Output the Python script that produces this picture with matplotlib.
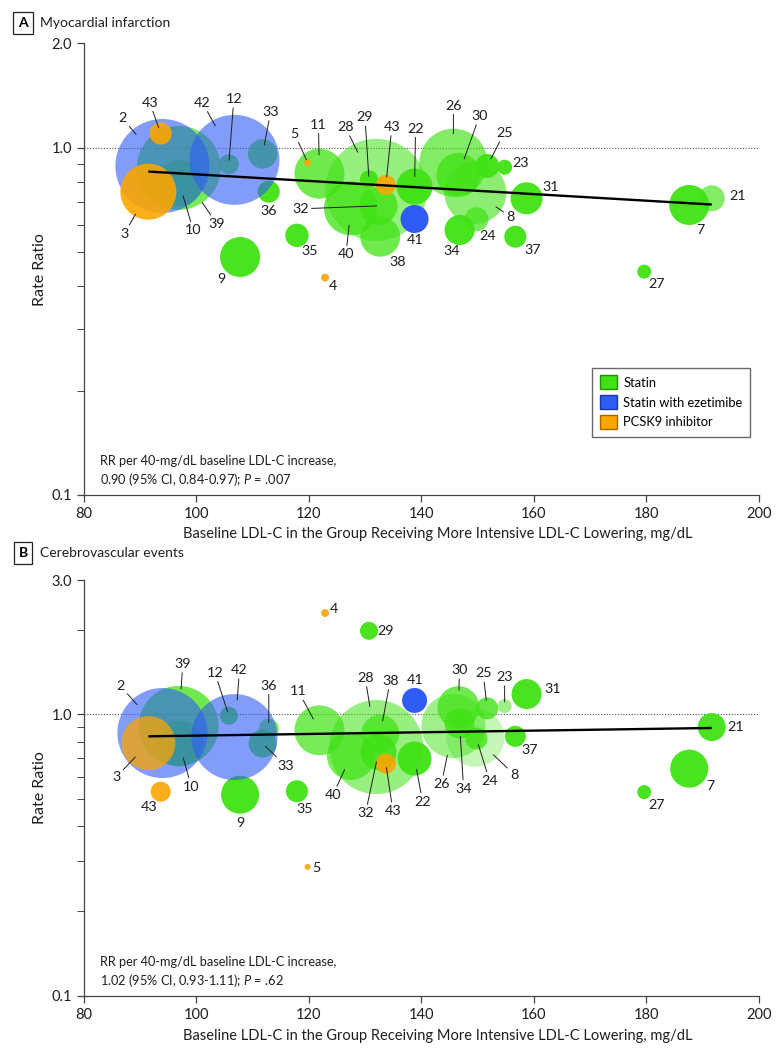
import numpy as np
import matplotlib
matplotlib.use('Agg')
import matplotlib.pyplot as plt
from matplotlib.patches import Patch
from matplotlib.ticker import FixedLocator, FixedFormatter, NullFormatter

plt.rcParams['font.family'] = ['Lato', 'DejaVu Sans']
plt.rcParams['mathtext.fontset'] = 'custom'
plt.rcParams['mathtext.it'] = 'Lato:italic'
plt.rcParams['mathtext.rm'] = 'Lato'

# trial data (same trials in both panels)
trials = ['2', '43', '3', '39', '10', '42', '12', '33', '36', '9', '35', '4', '5', '11', '28', '40', '32',
          '38', '29', '43', '22', '41', '26', '30', '8', '24', '34', '25', '23', '31', '37', '7', '21', '27']
drug = ['E', 'P', 'P', 'S', 'S', 'E', 'S', 'S', 'S', 'S', 'S', 'P', 'P', 'S', 'S', 'S', 'S',
        'S', 'S', 'P', 'S', 'E', 'S', 'S', 'S', 'S', 'S', 'S', 'S', 'S', 'S', 'S', 'S', 'S']
ldl = [94.0, 93.7, 91.5, 96.9, 97.0, 106.8, 105.8, 111.8, 112.9, 107.8, 117.9, 122.9, 119.8, 121.9, 132.0, 127.5, 132.4,
       132.7, 130.7, 133.7, 138.8, 138.8, 145.7, 146.6, 149.6, 149.8, 146.8, 151.7, 154.8, 158.7, 156.7, 187.6, 191.6, 179.6]

# panel A: myocardial infarction
rr_mi = [0.887, 1.10, 0.748, 0.876, 0.791, 0.924, 0.898, 0.961, 0.748, 0.485, 0.560, 0.423, 0.907, 0.843, 0.757, 0.670, 0.681,
         0.555, 0.812, 0.782, 0.774, 0.624, 0.907, 0.836, 0.743, 0.623, 0.580, 0.887, 0.880, 0.716, 0.555, 0.685, 0.716, 0.440]
w_mi = [47, 11, 28, 42, 23, 45, 10, 14.7, 11, 20, 11.7, 4, 3.5, 25, 51, 27, 19,
        20, 9, 10, 18, 14, 34, 22, 31, 12, 15, 12, 7.5, 16, 11, 20, 13, 7]
shade_mi = [0.6, 0.9, 0.9, 0.7, 0.75, 0.6, 0.8, 0.8, 0.95, 0.95, 0.95, 0.9, 0.9, 0.75, 0.55, 0.75, 0.8,
            0.75, 0.95, 0.9, 0.95, 1.0, 0.65, 0.75, 0.6, 0.7, 0.95, 0.95, 0.95, 0.95, 0.95, 0.95, 0.65, 0.95]
fit_mi = [0.855, 0.687]

# panel B: cerebrovascular events
rr_cv = [0.858, 0.531, 0.790, 0.909, 0.787, 0.830, 0.989, 0.787, 0.889, 0.518, 0.533, 2.29, 0.287, 0.877, 0.765, 0.711, 0.734,
         0.853, 1.98, 0.668, 0.696, 1.12, 0.909, 1.06, 0.826, 0.820, 0.927, 1.05, 1.07, 1.18, 0.835, 0.641, 0.901, 0.529]
w_cv = [45, 10, 27, 40, 23, 43, 9, 14, 10, 19, 11, 4, 3, 25, 47, 24, 18,
        19, 9, 10, 17, 12.5, 32, 21, 29, 11, 15, 11, 7, 15, 10.5, 19, 14, 7]
shade_cv = [0.6, 0.9, 0.75, 0.75, 0.75, 0.6, 0.85, 0.85, 0.7, 0.95, 0.95, 0.9, 0.9, 0.7, 0.55, 0.7, 0.85,
            0.7, 0.95, 0.9, 0.95, 1.0, 0.5, 0.75, 0.3, 0.8, 0.8, 0.8, 0.5, 0.95, 0.95, 0.95, 0.95, 0.95]
fit_cv = [0.835, 0.894]

stat_mi = 'RR per 40-mg/dL baseline LDL-C increase,\n0.90 (95% CI, 0.84-0.97); $\\it{P}$ = .007'
stat_cv = 'RR per 40-mg/dL baseline LDL-C increase,\n1.02 (95% CI, 0.93-1.11); $\\it{P}$ = .62'

# label placement: offset in px (dx, dy) and leader gap in px (None = no leader)
lab_mi = [(-40, 48, 41), (-11, 31, 6), (-24, -42, 26), (38, -56, 42), (14, -47, 13), (-32, 57, 39),
          (5, 65, 4), (8, 42, 9), (0, -19, None), (-19, -22, None), (13, -16, None), (8, -8, None),
          (-13, 29, 3), (-1, 49, 19), (-31, 63, 42), (-5, -46, 17), (-78, -3, 2), (17, -25, None),
          (-4, 62, 3), (6, 58, 8), (1, 58, 10), (1, -21, None), (0, 57, 29), (21, 59, 17),
          (35, -24, 25), (11, -17, None), (-8, -21, None), (17, 33, 8), (16, 4, None), (24, 11, None),
          (17, -13, None), (11, -25, None), (26, 2, None), (12, -12, None)]
lab_cv = [(-42, 47, 38), (-12, -15, None), (-32, -34, 19), (4, 62, 37), (12, -43, 15), (5, 67, 37),
          (-14, 43, 4), (23, -22, 4), (0, 43, 6), (0, -28, None), (8, -18, None), (9, 4, None),
          (9, -1, None), (-21, 39, 13), (-11, 69, 41), (-18, -39, 15), (-13, -61, 10), (10, 53, 13),
          (17, 0, None), (7, -47, 4), (8, -43, 11), (1, 20, None), (-12, -58, 30), (1, 37, 17),
          (39, -37, 25), (13, -42, 6), (4, -65, 13), (-4, 35, 8), (0, 29, 4), (26, 5, None),
          (14, -14, None), (21, -17, None), (24, 0, None), (12, -13, None)]

colors = {'S': '#40E214', 'E': '#2F5CF5', 'P': '#FAA500'}
layer = {'S': 2, 'E': 3, 'P': 4}
fs = 10.3
ink = '#1e1e1e'


def draw_panel(ax, rr, w, shade, fit, labels, stat, ytop, minor):
    order = sorted(range(len(trials)), key=lambda i: (layer[drug[i]], -w[i]))
    for i in order:
        ax.scatter([ldl[i]], [rr[i]], s=(1.44 * w[i]) ** 2, color=colors[drug[i]],
                   alpha=shade[i], edgecolors='none', zorder=layer[drug[i]])
    ax.plot([min(ldl), max(ldl)], fit, color='black', lw=1.7, zorder=5, solid_capstyle='butt')
    ax.axhline(1.0, color='#555555', lw=0.8, ls=(0, (1, 1.5)), zorder=1)

    for i, (dx, dy, gap) in enumerate(labels):
        if gap is None:
            ax.annotate(trials[i], (ldl[i], rr[i]), xytext=(dx, dy), textcoords='offset pixels',
                        ha='center', va='center', fontsize=fs, color=ink, zorder=6)
        else:
            ax.annotate(trials[i], (ldl[i], rr[i]), xytext=(dx, dy), textcoords='offset pixels',
                        ha='center', va='center', fontsize=fs, color=ink, zorder=6,
                        arrowprops=dict(arrowstyle='-', color=ink, lw=0.7,
                                        shrinkA=0, shrinkB=gap * 0.72))

    ax.set_yscale('log')
    ax.set_xlim(80, 200)
    ax.set_ylim(0.1, ytop)
    ax.set_xticks([80, 100, 120, 140, 160, 180, 200])
    ax.yaxis.set_major_locator(FixedLocator([0.1, 1.0, ytop]))
    ax.yaxis.set_major_formatter(FixedFormatter(['0.1', '1.0', f'{ytop:.1f}']))
    ax.yaxis.set_minor_locator(FixedLocator(minor))
    ax.yaxis.set_minor_formatter(NullFormatter())
    for s in ['top', 'right']:
        ax.spines[s].set_visible(False)
    for s in ['left', 'bottom']:
        ax.spines[s].set_color('#444444')
        ax.spines[s].set_linewidth(0.9)
    ax.tick_params(which='both', direction='out', color='#444444', labelsize=10.5, labelcolor=ink)
    ax.tick_params(which='major', length=5, width=0.9)
    ax.tick_params(which='minor', length=5, width=0.7)
    ax.set_ylabel('Rate Ratio', fontsize=11.5, color=ink)
    ax.yaxis.set_label_coords(-0.054, 0.5)
    ax.set_xlabel('Baseline LDL-C in the Group Receiving More Intensive LDL-C Lowering, mg/dL',
                  fontsize=10.5, color=ink)
    ax.text(0.024, 0.016, stat, transform=ax.transAxes, fontsize=9.2, color=ink,
            ha='left', va='bottom', linespacing=1.3)


fig = plt.figure(figsize=(7.8, 10.5), dpi=100)
ax1 = fig.add_axes([0.1072, 0.5286, 0.8659, 0.4300])
ax2 = fig.add_axes([0.1072, 0.0517, 0.8659, 0.3959])

draw_panel(ax1, rr_mi, w_mi, shade_mi, fit_mi, lab_mi, stat_mi, 2.0,
           [0.2, 0.3, 0.4, 0.5, 0.6, 0.7, 0.8, 0.9])
draw_panel(ax2, rr_cv, w_cv, shade_cv, fit_cv, lab_cv, stat_cv, 3.0,
           [0.2, 0.3, 0.4, 0.5, 0.6, 0.7, 0.8, 0.9, 2.0])
ax1.xaxis.set_label_coords(0.525, -0.072)
ax2.xaxis.set_label_coords(0.525, -0.08)

handles = [Patch(facecolor=colors['S'], edgecolor='#2a8a10', label='Statin'),
           Patch(facecolor=colors['E'], edgecolor='#1a3a9a', label='Statin with ezetimibe'),
           Patch(facecolor=colors['P'], edgecolor='#a06a00', label='PCSK9 inhibitor')]
leg = ax1.legend(handles=handles, loc='lower right', bbox_to_anchor=(0.987, 0.1285), fontsize=9.3,
                 frameon=True, fancybox=False, edgecolor='#444444', handlelength=1.3, handleheight=1.3,
                 handletextpad=0.5, borderpad=0.6, labelspacing=0.45, borderaxespad=0)
leg.get_frame().set_linewidth(1.0)

for y, letter, title in [(0.9778, 'A', 'Myocardial infarction'), (0.4733, 'B', 'Cerebrovascular events')]:
    fig.text(0.0295, y, letter, ha='center', va='center', fontsize=10, fontweight='bold',
             bbox=dict(boxstyle='square,pad=0.35', fc='white', ec='#222222', lw=0.9))
    fig.text(0.0513, y, title, ha='left', va='center', fontsize=10, color=ink)

fig.savefig('out.png', dpi=100)
